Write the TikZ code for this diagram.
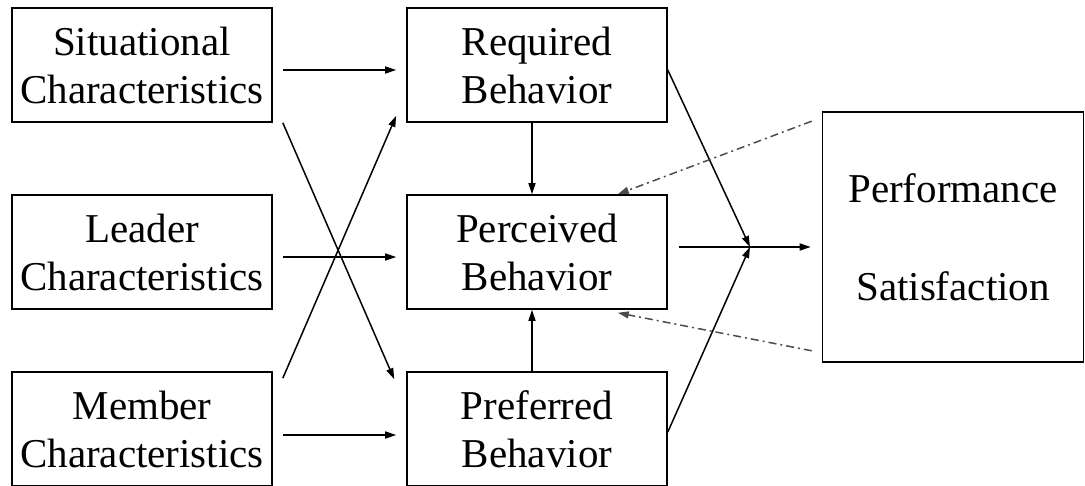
\documentclass[tikz,border=0pt]{standalone}
\usepackage{fontspec}
\setmainfont{Liberation Serif}
\usetikzlibrary{calc,arrows.meta}

\begin{document}
\begin{tikzpicture}[x=1pt,y=-1pt,
  box/.style={draw,line width=1.6pt,rectangle,inner sep=0pt,
    minimum width=260pt,minimum height=114pt,align=center,
    font=\fontsize{41}{48}\selectfont},
  arr/.style={line width=1.5pt,-{Triangle[length=11pt,width=7pt]}},
  fb/.style={line width=1.5pt,gray!60!black,
    dash pattern=on 8pt off 4pt on 2pt off 4pt,
    -{Triangle[length=11pt,width=7pt]}}]
\useasboundingbox (0,0) rectangle (1085,486);
%% boxes
\node[box] (sit) at (142,65) {Situational\\Characteristics};
\node[box] (lead) at (142,252) {Leader\\Characteristics};
\node[box] (mem) at (142,429) {Member\\Characteristics};
\node[box] (req) at (537,65) {Required\\Behavior};
\node[box] (perc) at (537,252) {Perceived\\Behavior};
\node[box] (pref) at (537,429) {Preferred\\Behavior};
\node[box,minimum width=261pt,minimum height=250pt,
  font=\fontsize{41}{98}\selectfont] (perf) at (953,237) {Performance\\Satisfaction};
\coordinate (jn) at (750,247);
%% arrows into the behaviors
\draw[arr] ($(sit.east)+(10,5)$) -- ($(req.west)+(-10,5)$);
\draw[arr] ($(lead.east)+(10,5)$) -- ($(perc.west)+(-10,5)$);
\draw[arr] ($(mem.east)+(10,6)$) -- ($(pref.west)+(-10,6)$);
\draw[arr] ($(sit.south east)+(10,0)$) -- ($(pref.north west)+(-12,8)$);
\draw[arr] ($(mem.north east)+(10,7)$) -- ($(req.south west)+(-10,-7)$);
\draw[arr] ($(req.south)+(-5,0)$) -- ($(perc.north)+(-5,0)$);
\draw[arr] ($(pref.north)+(-5,0)$) -- ($(perc.south)+(-5,0)$);
%% into performance
\draw[arr] ($(req.east)+(0,5)$) -- (jn);
\draw[arr] ($(pref.east)+(0,3)$) -- (jn);
\draw[arr] ($(perc.east)+(11,-5)$) -- ($(perf.west)+(-11,10)$);
%%% feedback
\draw[fb] ($(perf.north west)+(-10,10)$) -- ($(perc.north east)+(-50,0)$);
\draw[fb] ($(perf.south west)+(-10,-12)$) -- ($(perc.south east)+(-50,3)$);
\end{tikzpicture}
\end{document}
